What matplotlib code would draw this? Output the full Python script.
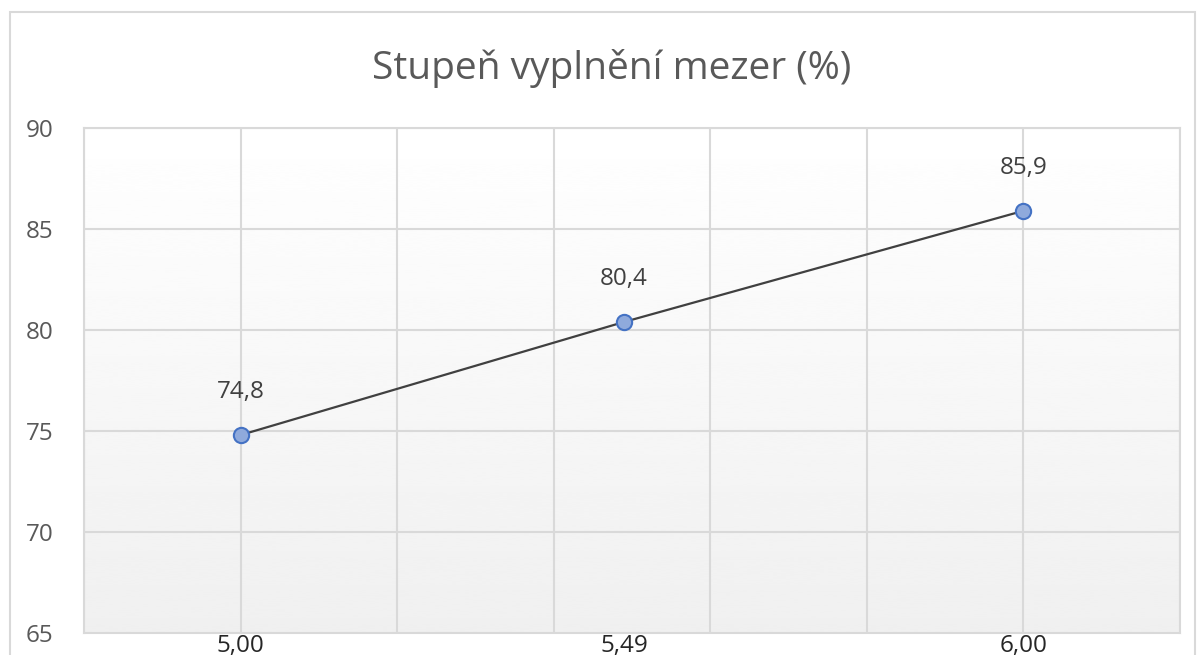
import numpy as np
import matplotlib
matplotlib.use("Agg")
import matplotlib.pyplot as plt
from matplotlib.patches import Rectangle

plt.rcParams['font.family'] = ['Open Sans', 'DejaVu Sans']

# data
x_vals = [5.00, 5.49, 6.00]
y_vals = [74.8, 80.4, 85.9]
x_labels = ["5,00", "5,49", "6,00"]
y_ticks = [65, 70, 75, 80, 85, 90]
title = "Stupeň vyplnění mezer (%)"

fig = plt.figure(figsize=(12.02, 6.55), dpi=100)
fig.patch.set_facecolor("white")

# outer chart border (bottom runs off the picture)
fig.patches.append(Rectangle((10 / 1202, -0.1), 1185 / 1202, 1.1 - 12 / 655,
                             transform=fig.transFigure, fill=False,
                             edgecolor="#d9d9d9", linewidth=1.5))

ax = fig.add_axes([84 / 1202, 1 - 633 / 655, (1180 - 84) / 1202, (633 - 128) / 655])

# soft white -> grey gradient in the plot area
grad = np.linspace(1.0, 0.94, 256).reshape(-1, 1)
ax.imshow(grad, extent=[0, 1, 0, 1], transform=ax.transAxes, cmap="gray",
          vmin=0, vmax=1, aspect="auto", zorder=0, interpolation="bicubic")

ax.set_xlim(4.8, 6.2)
ax.set_ylim(65, 90)

ax.xaxis.remove_overlapping_locs = False
ax.set_xticks(np.arange(4.8, 6.21, 0.2), minor=True)
ax.set_xticks(x_vals)
ax.set_xticklabels(x_labels, fontsize=17.5, color="#262626")
ax.set_yticks(y_ticks)
ax.set_yticklabels([str(v) for v in y_ticks], fontsize=17.5, color="#595959")
ax.tick_params(axis="both", which="both", length=0)
ax.tick_params(axis="y", pad=22)
ax.tick_params(axis="x", pad=1)

ax.grid(True, which="minor", axis="x", color="#d9d9d9", linewidth=1.5, zorder=1)
ax.grid(True, which="major", axis="y", color="#d9d9d9", linewidth=1.5, zorder=1)
ax.set_axisbelow(True)
for s in ax.spines.values():
    s.set_color("#d9d9d9")
    s.set_linewidth(1.5)

ax.plot(x_vals, y_vals, color="#404040", linewidth=1.6, marker="o",
        markersize=11, markerfacecolor="#8faadc", markeredgecolor="#4472c4",
        markeredgewidth=1.5, zorder=3)

for xv, yv in zip(x_vals, y_vals):
    ax.annotate(f"{yv:.1f}".replace(".", ","), (xv, yv), xytext=(0, 22),
                textcoords="offset points", ha="center", va="bottom",
                fontsize=17.5, color="#404040")

fig.text(612 / 1202, 1 - 68 / 655, title, ha="center", va="center",
         fontsize=28, color="#595959")

fig.savefig("out.png", dpi=100)
